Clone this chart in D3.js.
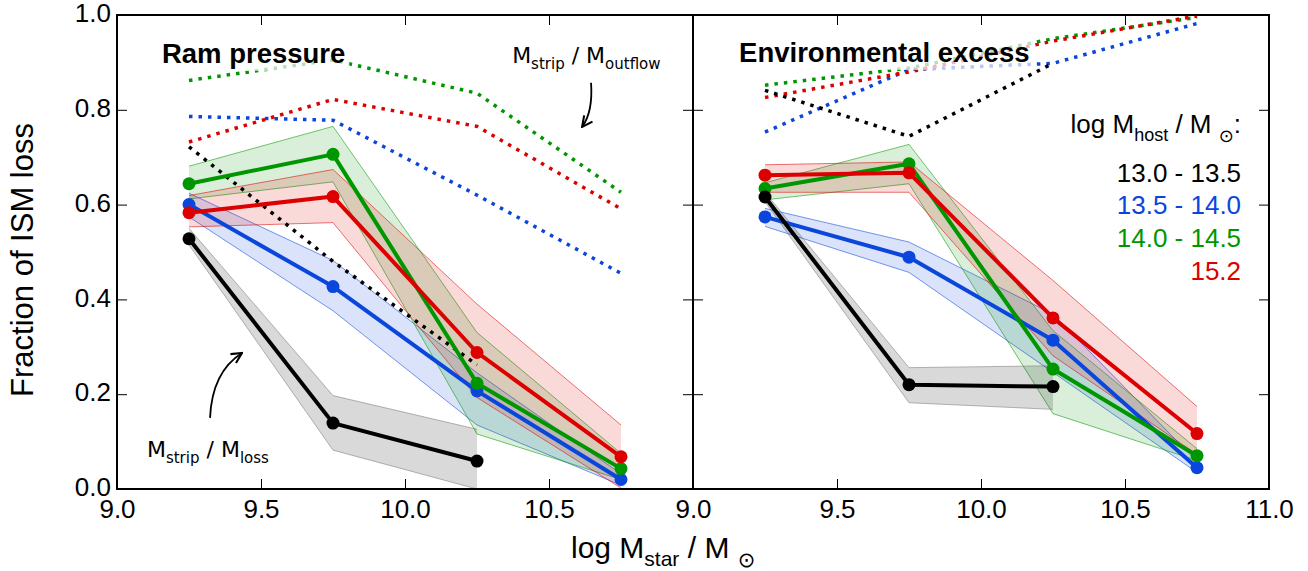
<!DOCTYPE html>
<html>
<head>
<meta charset="utf-8">
<script src="https://cdn.jsdelivr.net/npm/d3@7"></script>
<style>
  body { margin: 0; background: #fff; }
  svg { display: block; }
  text { font-family: "Liberation Sans", Arial, Helvetica, sans-serif; }
</style>
</head>
<body>
<svg id="chart"></svg>
<script>
// stellar mass bins (log M_star / M_sun)
const massBins = [9.25, 9.75, 10.25, 10.75];
const hostBins = ["13.0 - 13.5", "13.5 - 14.0", "14.0 - 14.5", "15.2"];
const xTicks = [9.0, 9.5, 10.0, 10.5, 11.0];
const yTicks = [0.0, 0.2, 0.4, 0.6, 0.8, 1.0];

// ram pressure panel, one row per host bin (black, blue, green, red)
const ramFrac = [
  [0.528, 0.139, 0.059, null],
  [0.600, 0.427, 0.207, 0.020],
  [0.644, 0.706, 0.223, 0.043],
  [0.583, 0.617, 0.288, 0.068]
];
const ramHi = [
  [0.550, 0.197, 0.126, null],
  [0.624, 0.482, 0.245, 0.032],
  [0.681, 0.765, 0.330, 0.075],
  [0.619, 0.674, 0.390, 0.135]
];
const ramLo = [
  [0.515, 0.082, 0.000, null],
  [0.574, 0.376, 0.135, 0.008],
  [0.612, 0.648, 0.116, 0.020],
  [0.553, 0.562, 0.193, 0.002]
];
const ramOutflow = [
  [0.722, 0.480, 0.262, null],
  [0.786, 0.778, 0.620, 0.455],
  [0.862, 0.905, 0.835, 0.626],
  [0.732, 0.822, 0.765, 0.591]
];

// environmental excess panel
const envFrac = [
  [0.616, 0.220, 0.216, null],
  [0.574, 0.489, 0.314, 0.045],
  [0.634, 0.686, 0.253, 0.070],
  [0.662, 0.667, 0.361, 0.117]
];
const envHi = [
  [0.626, 0.256, 0.260, null],
  [0.592, 0.521, 0.369, 0.058],
  [0.646, 0.727, 0.334, 0.085],
  [0.684, 0.690, 0.440, 0.174]
];
const envLo = [
  [0.606, 0.182, 0.168, null],
  [0.554, 0.457, 0.246, 0.035],
  [0.610, 0.644, 0.159, 0.060],
  [0.626, 0.626, 0.281, 0.073]
];
const envOutflow = [
  [0.841, 0.744, 0.898, null],
  [0.753, 0.885, 0.898, 0.982],
  [0.852, 0.888, 0.950, 0.995],
  [0.826, 0.880, 0.945, 0.998]
];

const colors = ["#000000", "#0a46dc", "#009600", "#dc0000"];
const edgeColors = ["#7a7a7a", "#0a46dc", "#009600", "#dc0000"];
const drawOrder = [1, 2, 3, 0];

const width = 1308, height = 571;
const plotTop = 15, plotBottom = 489;
const panelW = 576;
const left0 = 117;

const svg = d3.select("#chart").attr("width", width).attr("height", height);

const y = d3.scaleLinear().domain([0, 1]).range([plotBottom, plotTop]);

// arrowhead like matplotlib "->"
svg.append("defs").append("marker")
  .attr("id", "arrow")
  .attr("viewBox", "0 0 10 10")
  .attr("refX", 9).attr("refY", 5)
  .attr("markerWidth", 13).attr("markerHeight", 13)
  .attr("markerUnits", "userSpaceOnUse")
  .attr("orient", "auto")
  .append("path")
  .attr("d", "M1,1 L9,5 L1,9")
  .attr("fill", "none")
  .attr("stroke", "#000")
  .attr("stroke-width", 1.6);

function rows(vals, hi, lo) {
  return massBins.map((m, i) => ({m: m, v: vals[i], hi: hi ? hi[i] : null, lo: lo ? lo[i] : null}))
    .filter(d => d.v !== null);
}

function panel(x0, frac, hi, lo, outflow, tickLabels) {
  const x = d3.scaleLinear().domain([9, 11]).range([x0, x0 + panelW]);
  const g = svg.append("g");

  const line = d3.line().x(d => x(d.m)).y(d => y(d.v));
  const area = d3.area().x(d => x(d.m)).y0(d => y(d.lo)).y1(d => y(d.hi));

  // shaded bands
  drawOrder.forEach(k => {
    const data = rows(frac[k], hi[k], lo[k]);
    g.append("path").datum(data)
      .attr("d", area)
      .attr("fill", colors[k])
      .attr("fill-opacity", 0.15)
      .attr("stroke", "none");
    g.append("path").datum(data)
      .attr("d", d3.line().x(d => x(d.m)).y(d => y(d.hi)))
      .attr("fill", "none").attr("stroke", edgeColors[k]).attr("stroke-opacity", 0.55).attr("stroke-width", 1);
    g.append("path").datum(data)
      .attr("d", d3.line().x(d => x(d.m)).y(d => y(d.lo)))
      .attr("fill", "none").attr("stroke", edgeColors[k]).attr("stroke-opacity", 0.55).attr("stroke-width", 1);
  });

  // dotted: M_strip / M_outflow
  drawOrder.forEach(k => {
    g.append("path").datum(rows(outflow[k]))
      .attr("d", line)
      .attr("fill", "none")
      .attr("stroke", colors[k])
      .attr("stroke-width", 3.5)
      .attr("stroke-dasharray", "3.5,6");
  });

  // solid: M_strip / M_loss
  drawOrder.forEach(k => {
    const data = rows(frac[k]);
    g.append("path").datum(data)
      .attr("d", line)
      .attr("fill", "none")
      .attr("stroke", colors[k])
      .attr("stroke-width", 4)
      .attr("stroke-linejoin", "round");
    g.selectAll(null).data(data).join("circle")
      .attr("cx", d => x(d.m))
      .attr("cy", d => y(d.v))
      .attr("r", 6.5)
      .attr("fill", colors[k]);
  });

  // axes with inward ticks
  const fmt = d3.format(".1f");
  const bottom = svg.append("g")
    .attr("transform", `translate(0,${plotBottom})`)
    .call(d3.axisBottom(x).tickValues(tickLabels).tickSize(-10).tickPadding(11).tickFormat(fmt));
  bottom.append("g").call(d3.axisBottom(x).tickValues(xTicks.filter(t => tickLabels.indexOf(t) < 0)).tickSize(-10).tickFormat(""));
  svg.append("g")
    .attr("transform", `translate(0,${plotTop})`)
    .call(d3.axisTop(x).tickValues(xTicks).tickSize(-10).tickFormat(""));
  svg.append("g")
    .attr("transform", `translate(${x0},0)`)
    .call(d3.axisLeft(y).tickValues(yTicks).tickSize(-10).tickFormat(""));
  svg.append("g")
    .attr("transform", `translate(${x0 + panelW},0)`)
    .call(d3.axisRight(y).tickValues(yTicks).tickSize(-10).tickFormat(""));

  svg.append("rect")
    .attr("x", x0).attr("y", plotTop)
    .attr("width", panelW).attr("height", plotBottom - plotTop)
    .attr("fill", "none").attr("stroke", "#000").attr("stroke-width", 2);

  return x;
}

const xRam = panel(left0, ramFrac, ramHi, ramLo, ramOutflow, [9.0, 9.5, 10.0, 10.5]);
const xEnv = panel(left0 + panelW, envFrac, envHi, envLo, envOutflow, xTicks);

// y tick labels
svg.append("g")
  .attr("transform", `translate(${left0},0)`)
  .call(d3.axisLeft(y).tickValues(yTicks).tickSize(0).tickPadding(6).tickFormat(d3.format(".1f")))
  .call(a => a.selectAll("text").attr("dy", "0.26em"));

svg.selectAll(".domain").remove();
svg.selectAll(".tick line").attr("stroke", "#000").attr("stroke-width", 1);
svg.selectAll(".tick text")
  .attr("fill", "#000")
  .style("font-size", "26px")
  .style("font-family", "'Liberation Sans', Arial, sans-serif");

// panel titles with translucent box
function title(xs, xv, yv, label) {
  const t = svg.append("text")
    .attr("x", xs(xv)).attr("y", y(yv))
    .style("font-size", "27.5px").style("font-weight", "bold")
    .text(label);
  const b = t.node().getBBox();
  svg.insert("rect", () => t.node())
    .attr("x", b.x - 4).attr("y", b.y - 2)
    .attr("width", b.width + 8).attr("height", b.height + 4)
    .attr("fill", "#fff").attr("fill-opacity", 0.7);
}
title(xRam, 9.156, 0.899, "Ram pressure");
title(xEnv, 9.16, 0.901, "Environmental excess");

// annotation text: M_strip / M_xxx
function ratioLabel(xs, xv, yv, sub2) {
  const t = svg.append("text")
    .attr("x", xs(xv)).attr("y", y(yv))
    .style("font-family", "'DejaVu Sans', sans-serif")
    .style("font-size", "22px");
  t.append("tspan").text("M");
  t.append("tspan").attr("dy", 6).style("font-size", "15px").text("strip");
  t.append("tspan").attr("dy", -6).text(" / M");
  t.append("tspan").attr("dy", 6).style("font-size", "15px").text(sub2);
}
ratioLabel(xRam, 9.104, 0.0675, "loss");
ratioLabel(xRam, 10.372, 0.899, "outflow");

function curvedArrow(xs, p0, c, p1) {
  svg.append("path")
    .attr("d", `M${xs(p0[0])},${y(p0[1])} Q${xs(c[0])},${y(c[1])} ${xs(p1[0])},${y(p1[1])}`)
    .attr("fill", "none")
    .attr("stroke", "#000")
    .attr("stroke-width", 1.8)
    .attr("marker-end", "url(#arrow)");
}
curvedArrow(xRam, [9.323, 0.150], [9.330, 0.247], [9.434, 0.287]);
curvedArrow(xRam, [10.646, 0.857], [10.653, 0.795], [10.615, 0.764]);

// legend
const legX = xEnv(10.903);
const head = svg.append("text")
  .attr("x", legX).attr("y", y(0.751))
  .attr("text-anchor", "end")
  .style("font-size", "26px");
head.append("tspan").text("log M");
head.append("tspan").attr("dy", 8).style("font-size", "18px").text("host");
head.append("tspan").attr("dy", -8).text(" / M ");
head.append("tspan").attr("dy", 9).style("font-size", "18px").style("font-family", "'DejaVu Sans', sans-serif").text("\u2299");
head.append("tspan").attr("dy", -9).text(":");

const legY = [0.648, 0.581, 0.5105, 0.441];
svg.selectAll(null).data(hostBins).join("text")
  .attr("x", legX)
  .attr("y", (d, i) => y(legY[i]))
  .attr("text-anchor", "end")
  .attr("fill", (d, i) => colors[i])
  .style("font-size", "26px")
  .text(d => d);

// axis labels
const xl = svg.append("text")
  .attr("x", 571).attr("y", 558)
  .style("font-size", "30px");
xl.append("tspan").text("log M");
xl.append("tspan").attr("dy", 8).style("font-size", "21px").text("star");
xl.append("tspan").attr("dy", -8).text(" / M ");
xl.append("tspan").attr("dy", 9).style("font-size", "21px").style("font-family", "'DejaVu Sans', sans-serif").text("\u2299");

svg.append("text")
  .attr("transform", `translate(33,${(plotTop + plotBottom) / 2 + 8}) rotate(-90)`)
  .attr("text-anchor", "middle")
  .style("font-size", "31px")
  .text("Fraction of ISM loss");
</script>
</body>
</html>
